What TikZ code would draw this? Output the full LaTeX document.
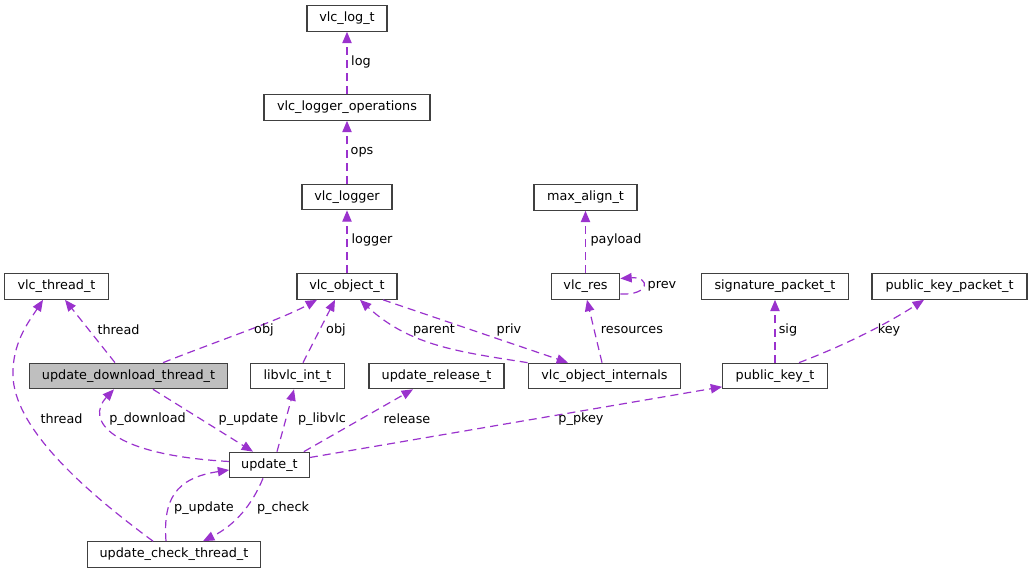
\documentclass[tikz,border=0pt]{standalone}
\usepackage{fontspec}
\setmainfont{DejaVu Sans}
\usetikzlibrary{arrows.meta,calc}
\definecolor{edgecol}{RGB}{154,50,205}
\definecolor{boxline}{RGB}{64,64,64}
\definecolor{hilite}{RGB}{191,191,191}
\tikzset{
  cls/.style={draw=boxline, line width=0.9pt, fill=white, minimum height=19.1pt, inner sep=0pt, font=\fontsize{9.6}{11}\selectfont},
  rel/.style={draw=edgecol, line width=0.9pt, dash pattern=on 6pt off 3.8pt, -{Triangle[length=8.5pt,width=7pt]}},
  lbl/.style={inner sep=0pt, font=\fontsize{9.6}{11}\selectfont, text=black}
}
\begin{document}
\begin{tikzpicture}[x=0.75pt,y=-0.75pt]
\useasboundingbox (0,0) rectangle (1033,573);
% nodes
\node[cls, minimum width=60pt] (log) at (347,18.5) {vlc\_log\_t};
\node[cls, minimum width=124.5pt] (ops) at (347,107.5) {vlc\_logger\_operations};
\node[cls, minimum width=67.5pt] (logger) at (347,197) {vlc\_logger};
\node[cls, minimum width=75pt] (obj) at (347,286.5) {vlc\_object\_t};
\node[cls, minimum width=77.25pt] (maxal) at (585.5,197.5) {max\_align\_t};
\node[cls, minimum width=51.4pt] (res) at (585.5,286.5) {vlc\_res};
\node[cls, minimum width=110.25pt] (sigp) at (775,286.5) {signature\_packet\_t};
\node[cls, minimum width=116.25pt] (pubkp) at (949.5,286.5) {public\_key\_packet\_t};
\node[cls, minimum width=78pt] (thr) at (56.5,286.5) {vlc\_thread\_t};
\node[cls, minimum width=148.9pt, fill=hilite] (dl) at (128.5,376) {update\_download\_thread\_t};
\node[cls, minimum width=70.1pt] (libvlc) at (297.5,376) {libvlc\_int\_t};
\node[cls, minimum width=101.25pt] (relt) at (436.5,376) {update\_release\_t};
\node[cls, minimum width=114.4pt] (intern) at (604.5,376) {vlc\_object\_internals};
\node[cls, minimum width=78.4pt] (pubk) at (775,376) {public\_key\_t};
\node[cls, minimum width=59.6pt] (upd) at (269.5,465) {update\_t};
\node[cls, minimum width=130.1pt] (chk) at (174,554.5) {update\_check\_thread\_t};
% edges
\draw[rel] (ops.north) -- (log.south);
\draw[rel] (logger.north) -- (ops.south);
\draw[rel] (obj.north) -- (logger.south);
\draw[rel] (res.north) -- (maxal.south);
\draw[rel] ($(res.east)+(0,7.5)$) .. controls ($(res.east)+(30,9)$) and ($(res.east)+(30,-10)$) .. ($(res.east)+(0,-8)$);
\draw[rel] ($(intern.north)+(-2.5,0)$) -- ($(res.south)+(1.5,0)$);
\draw[rel] (pubk.north) -- (sigp.south);
\draw[rel] ($(pubk.north)+(24,0)$) .. controls (845,345) and (885,325) .. ($(pubkp.south)+(-25.5,0)$);
\draw[rel] ($(dl.north)+(-13.5,0)$) -- ($(thr.south)+(8.5,0)$);
\draw[rel] ($(dl.north)+(34.5,0)$) .. controls (220,340) and (280,320) .. ($(obj.south)+(-30,0)$);
\draw[rel] ($(libvlc.north)+(5.5,0)$) -- ($(obj.south)+(-12,0)$);
\draw[rel] (intern.north west) .. controls (460,352) and (410,346) .. ($(obj.south)+(13,0)$);
\draw[rel] ($(obj.south)+(36,0)$) -- ($(intern.north)+(-36.5,0)$);
\draw[rel] ($(dl.south)+(24.5,0)$) -- ($(upd.north)+(-16.5,0)$);
\draw[rel] ($(upd.west)+(0,-3.5)$) .. controls (110,455) and (85,420) .. ($(dl.south)+(-14.5,0)$);
\draw[rel] ($(upd.north)+(7.5,0)$) -- ($(libvlc.south)+(-3.5,0)$);
\draw[rel] ($(upd.north east)+(-6,0)$) -- ($(relt.south)+(-23.5,0)$);
\draw[rel] ($(upd.east)+(0,-7.5)$) -- ($(pubk.south west)+(0,-2.5)$);
\draw[rel] ($(chk.north)+(-8,0)$) .. controls (163,500) and (175,478) .. ($(upd.west)+(0,5)$);
\draw[rel] ($(upd.south)+(-6.5,0)$) .. controls (252,505) and (235,525) .. ($(chk.north)+(29,0)$);
\draw[rel] ($(chk.north)+(-21,0)$) .. controls (70,480) and (10,420) .. (13,370) .. controls (14,340) and (30,320) .. ($(thr.south)+(-13.5,0)$);
% labels
\node[lbl] (l1) at (361,62) {log};
\node[lbl] (l2) at (362,152) {ops};
\node[lbl] (l3) at (372,240) {logger};
\node[lbl] (l4) at (616,240) {payload};
\node[lbl] (l5) at (662,286) {prev};
\node[lbl] (l6) at (632,330) {resources};
\node[lbl] (l7) at (788,330) {sig};
\node[lbl] (l8) at (889,330) {key};
\node[lbl] (l9) at (118.5,330) {thread};
\node[lbl] (l10) at (264,330) {obj};
\node[lbl] (l11) at (336,330) {obj};
\node[lbl] (l12) at (434,330) {parent};
\node[lbl] (l13) at (509,330) {priv};
\node[lbl] (l14) at (248.5,419) {p\_update};
\node[lbl] (l15) at (147.5,419) {p\_download};
\node[lbl] (l16) at (322,419) {p\_libvlc};
\node[lbl] (l17) at (407,419) {release};
\node[lbl] (l18) at (581,419) {p\_pkey};
\node[lbl] (l19) at (204,508) {p\_update};
\node[lbl] (l20) at (283,508) {p\_check};
\node[lbl] (l21) at (61.5,419) {thread};
\end{tikzpicture}
\end{document}
